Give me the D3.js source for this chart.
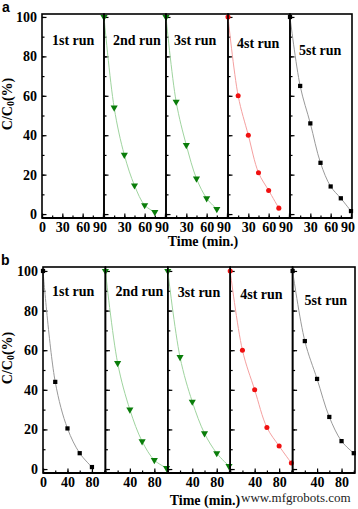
<!DOCTYPE html>
<html><head><meta charset="utf-8">
<script src="https://cdn.jsdelivr.net/npm/d3@7"></script>
<style>body{margin:0;background:#fff}svg{display:block}</style>
</head><body>
<svg id="c" width="358" height="509"></svg>
<script>
// ---- data ----
const runLabels = ["1st run", "2nd run", "3st run", "4st run", "5st run"];
const yTicks = [0, 20, 40, 60, 80, 100];
// panel a
const aTimes = [0, 15, 30, 45, 60, 75];
const aTimes5 = [0, 15, 30, 45, 60, 75, 90];
const aRun1 = [];
const aRun2 = [100, 54, 30, 14.5, 4.5, 1];
const aRun3 = [100, 57, 35, 18, 8, 2.5];
const aRun4 = [100, 60, 40, 21, 12, 3];
const aRun5 = [100, 65, 46, 26, 14, 8, 1.5];
const aXTicks = [0, 30, 60, 90];
// panel b
const bTimes = [0, 20, 40, 60, 80, 100];
const bTimes1 = [0, 20, 40, 60, 80];
const bRun1 = [100, 44, 20.5, 8, 1];
const bRun2 = [100, 53.5, 30, 14, 4.5, 0.5];
const bRun3 = [100, 56.5, 34, 18, 8, 1.5];
const bRun4 = [100, 60, 40, 21, 11.6, 3];
const bRun5 = [100, 64.6, 45.5, 26.3, 14.1, 8];
const bXTicks = [0, 40, 80];

// ---- styles per run ----
const styles = [
  {marker: d3.symbolSquare, fill: "#000", line: "#9a9a9a", size: 18, rot: 0},
  {marker: d3.symbolTriangle, fill: "#0a7d0a", line: "#9fd49f", size: 22, rot: 180},
  {marker: d3.symbolTriangle, fill: "#0a7d0a", line: "#9fd49f", size: 22, rot: 180},
  {marker: d3.symbolCircle, fill: "#f01010", line: "#f5a0a0", size: 20, rot: 0},
  {marker: d3.symbolSquare, fill: "#000", line: "#9a9a9a", size: 18, rot: 0}
];

const serif = "'Liberation Serif','Times New Roman',serif";
const svg = d3.select("#c");

function figure(cfg) {
  const n = cfg.runs.length;
  const pw = (cfg.right - cfg.left) / n;
  const y = d3.scaleLinear().domain(cfg.yDomain).range([cfg.bottom, cfg.top]);
  const g = svg.append("g");

  cfg.runs.forEach((run, i) => {
    const x0 = cfg.left + i * pw;
    const x = d3.scaleLinear().domain(cfg.xDomain).range([x0, x0 + pw]);
    const st = styles[i];
    const pg = g.append("g");

    // y axis (ticks inward)
    const yMinor = d3.range(0, 101, 10);
    pg.append("g").attr("transform", `translate(${x0},0)`)
      .call(d3.axisLeft(y).tickValues(yMinor).tickSize(-2.5).tickSizeOuter(0).tickFormat(""))
      .call(s => s.select(".domain").remove());
    const ya = pg.append("g").attr("transform", `translate(${x0},0)`)
      .call(d3.axisLeft(y).tickValues(yTicks).tickSize(-4.5).tickSizeOuter(0).tickPadding(5)
        .tickFormat(i === 0 ? d3.format("d") : ""));
    ya.select(".domain").remove();

    // x axis (ticks inward)
    const step = cfg.xTicks[1] / 2;
    const xMinor = d3.range(0, cfg.xDomain[1] + 0.01, step);
    pg.append("g").attr("transform", `translate(0,${cfg.bottom})`)
      .call(d3.axisBottom(x).tickValues(xMinor).tickSize(-2.5).tickSizeOuter(0).tickFormat(""))
      .call(s => s.select(".domain").remove());
    const xa = pg.append("g").attr("transform", `translate(0,${cfg.bottom})`)
      .call(d3.axisBottom(x).tickValues(i === 0 ? cfg.xTicks : cfg.xTicks.slice(1))
        .tickSize(-4.5).tickSizeOuter(0).tickPadding(4.5).tickFormat(d3.format("d")));
    xa.select(".domain").remove();
    xa.selectAll(".tick text").attr("dx", d => d === cfg.shiftTick ? -3.5 : 0);

    [ya, xa].forEach(a => a.selectAll("text").attr("font-family", serif)
      .attr("font-weight", "bold").attr("font-size", 14).attr("fill", "#000"));
    pg.selectAll(".tick line").attr("stroke", "#000").attr("stroke-width", 1.2);

    // data
    const pts = run.v.map((v, k) => [run.t[k], v]);
    if (pts.length) {
      pg.append("path").datum(pts)
        .attr("fill", "none").attr("stroke", st.line).attr("stroke-width", 1)
        .attr("d", d3.line().x(d => x(d[0])).y(d => y(d[1])).curve(d3.curveCatmullRom));
      pg.selectAll(".m").data(pts).join("path")
        .attr("d", d3.symbol().type(st.marker).size(st.size))
        .attr("fill", st.fill)
        .attr("transform", d => `translate(${x(d[0])},${y(d[1])}) rotate(${st.rot})`);
    }

    // run label
    pg.append("text").attr("x", x0 + cfg.labDx[i]).attr("y", cfg.labY[i])
      .attr("font-family", serif).attr("font-weight", "bold").attr("font-size", 14)
      .text(runLabels[i]);

    // frame
    pg.append("rect").attr("x", x0).attr("y", cfg.top).attr("width", pw)
      .attr("height", cfg.bottom - cfg.top)
      .attr("fill", "none").attr("stroke", "#000").attr("stroke-width", 1.6);
  });

  // thicker bottom axis
  g.append("line").attr("x1", cfg.left).attr("x2", cfg.right)
    .attr("y1", cfg.bottom).attr("y2", cfg.bottom).attr("stroke", "#000").attr("stroke-width", 2);

  // axis titles
  g.append("text").attr("x", cfg.titleX).attr("y", cfg.titleY).attr("text-anchor", "middle")
    .attr("font-family", serif).attr("font-weight", "bold").attr("font-size", 14)
    .text("Time (min.)");
  const yt = g.append("text")
    .attr("transform", `translate(${cfg.yTitleX},${cfg.yTitleY}) rotate(-90)`)
    .attr("text-anchor", "middle")
    .attr("font-family", serif).attr("font-weight", "bold").attr("font-size", 14);
  yt.append("tspan").text("C/C");
  yt.append("tspan").attr("font-size", 10).attr("dy", 2).text("0");
  yt.append("tspan").attr("dy", -2).text("(%)");

  // panel letter
  g.append("text").attr("x", cfg.letterX).attr("y", cfg.letterY)
    .attr("font-family", "'Liberation Sans',Arial,sans-serif").attr("font-weight", "bold")
    .attr("font-size", 14).text(cfg.letter);
}

figure({
  letter: "a", letterX: 2, letterY: 12,
  left: 42, right: 352, top: 14, bottom: 218,
  yDomain: [-2, 101.5], xDomain: [0, 91.5], xTicks: aXTicks, shiftTick: 90,
  runs: [{t: aTimes, v: aRun1}, {t: aTimes, v: aRun2}, {t: aTimes, v: aRun3},
         {t: aTimes, v: aRun4}, {t: aTimes5, v: aRun5}],
  labDx: [10, 9, 8, 9, 9], labY: [45, 45, 45, 48, 55],
  titleX: 203, titleY: 246, yTitleX: 12, yTitleY: 104
});
figure({
  letter: "b", letterX: 1, letterY: 265,
  left: 43, right: 355, top: 267, bottom: 473,
  yDomain: [-2, 102], xDomain: [0, 102], xTicks: bXTicks, shiftTick: null,
  runs: [{t: bTimes1, v: bRun1}, {t: bTimes, v: bRun2}, {t: bTimes, v: bRun3},
         {t: bTimes, v: bRun4}, {t: bTimes, v: bRun5}],
  labDx: [9, 10, 10, 10, 12], labY: [296, 296, 297, 299, 305],
  titleX: 205, titleY: 505, yTitleX: 12, yTitleY: 358
});

// watermark
svg.append("text").attr("x", 241).attr("y", 502)
  .attr("font-family", serif).attr("font-size", 13).attr("fill", "#222")
  .text("www.mfgrobots.com");
</script>
</body></html>
